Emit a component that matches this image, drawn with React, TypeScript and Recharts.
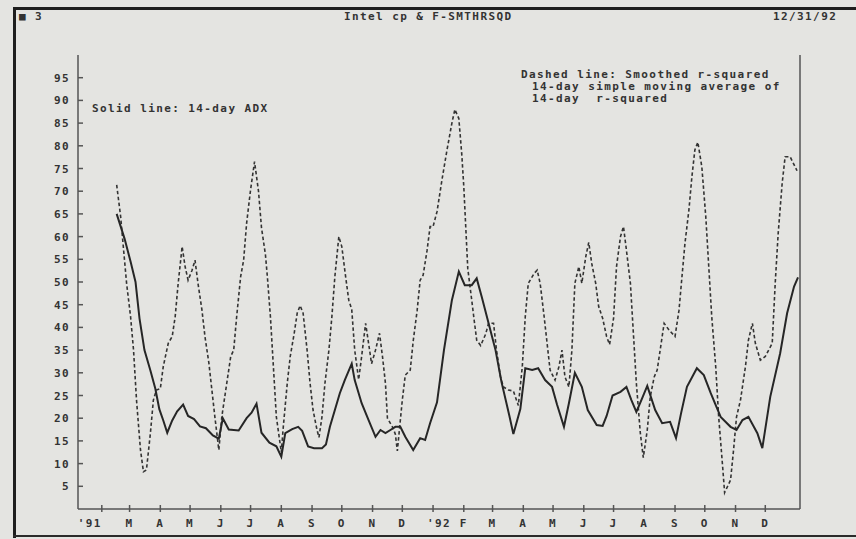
import { LineChart, Line, XAxis, YAxis } from "recharts";

// x values are days counted from 1 Jan 1991 (chart runs mid-Jan '91 to end '92)
const adxDays = [
  46, 54, 60, 65, 69, 74, 80, 85, 89, 93, 97, 102, 107, 113, 118, 124, 130, 136,
  143, 149, 153, 159, 169, 177, 182, 187, 192, 200, 207, 212, 216, 223, 229, 233,
  239, 245, 253, 257, 261, 266, 271, 276, 283, 286, 293, 300, 307, 312, 317, 322,
  327, 332, 337, 345, 352, 357, 362, 369, 376, 384, 391, 397, 404, 409, 414, 421,
  428, 434, 442, 446, 453, 458, 465, 471, 478, 485, 490, 497, 502, 508, 515, 521,
  530, 536, 540, 546, 554, 560, 565, 570, 576, 581, 589, 596, 604, 610, 615, 621,
  631, 638, 645, 655, 665, 671, 677, 683, 692, 697, 705, 715, 722, 729, 733,
];
const adxValues = [
  65.0, 59.5, 54.5, 50.0, 42.0, 35.0, 30.5, 26.5, 22.0, 19.5, 16.8, 19.5, 21.5,
  23.0, 20.5, 19.8, 18.2, 17.8, 16.2, 15.5, 20.0, 17.5, 17.3, 20.0, 21.2, 23.2,
  16.8, 14.6, 13.8, 11.5, 16.7, 17.6, 18.1, 17.2, 13.8, 13.4, 13.4, 14.2, 18.1,
  21.8, 25.5, 28.4, 32.0, 28.4, 23.3, 19.6, 15.9, 17.4, 16.7, 17.4, 18.1, 18.1,
  15.9, 13.0, 15.6, 15.2, 18.9, 23.5, 35.0, 46.0, 52.3, 49.3, 49.3, 50.8, 46.8,
  40.9, 35.0, 28.0, 20.5, 16.5, 22.0, 31.0, 30.6, 31.0, 28.4, 26.9, 23.0, 18.1,
  23.3, 30.0, 26.9, 21.8, 18.5, 18.3, 20.5, 25.0, 25.8, 26.9, 24.0, 21.4, 24.5,
  27.1, 21.8, 18.9, 19.2, 15.6, 21.0, 26.9, 31.0, 29.5, 25.5, 20.3, 18.1, 17.4,
  19.6, 20.3, 16.7, 13.4, 24.7, 34.3, 43.1, 49.0, 51.0,
];

const rsqDays = [
  46, 50, 53, 56, 60, 63, 66, 70, 73, 76, 80, 83, 86, 90, 93, 98, 102, 105, 108,
  112, 115, 118, 122, 125, 128, 132, 135, 139, 142, 145, 149, 152, 157, 161, 164,
  167, 171, 174, 177, 181, 185, 189, 192, 196, 198, 201, 204, 207, 212, 214, 218,
  221, 225, 228, 231, 234, 238, 241, 244, 248, 250, 253, 256, 260, 263, 266, 270,
  273, 276, 280, 283, 286, 290, 293, 297, 300, 303, 307, 311, 314, 317, 319, 324,
  327, 329, 334, 337, 342, 345, 349, 352, 355, 359, 362, 365, 369, 374, 379, 384,
  387, 391, 394, 396, 398, 400, 404, 406, 409, 413, 418, 421, 426, 429, 433, 436,
  441, 446, 451, 455, 458, 461, 467, 470, 473, 477, 480, 483, 488, 492, 495, 498,
  502, 505, 508, 512, 515, 519, 522, 525, 529, 532, 536, 540, 543, 547, 550, 554,
  557, 560, 564, 567, 570, 574, 577, 581, 584, 588, 591, 594, 598, 603, 609, 613,
  616, 619, 623, 626, 629, 632, 636, 640, 643, 646, 650, 653, 657, 659, 665, 668,
  671, 675, 680, 683, 687, 690, 695, 700, 707, 710, 713, 717, 720, 725, 732,
];
const rsqValues = [
  71.4, 64.4, 57.0, 49.7, 42.4, 35.0, 24.0, 13.0, 8.2, 8.6, 16.7, 24.0, 26.2,
  26.5, 31.4, 36.5, 38.0, 42.4, 49.7, 57.8, 53.4, 50.4, 52.6, 54.8, 49.7, 43.8,
  38.0, 32.1, 26.2, 20.3, 13.0, 20.3, 27.7, 33.6, 35.0, 42.4, 51.2, 54.8, 62.9,
  70.3, 76.5, 70.0, 62.0, 56.0, 51.0, 42.4, 31.4, 20.3, 12.5, 18.1, 27.7, 33.6,
  38.7, 43.1, 44.8, 43.1, 35.0, 27.7, 21.8, 17.4, 15.8, 20.3, 27.7, 35.0, 42.4,
  51.2, 60.0, 57.8, 52.6, 46.0, 44.0, 35.0, 28.5, 33.6, 40.9, 36.5, 32.0, 35.0,
  38.7, 33.6, 27.7, 20.0, 18.1, 16.5, 12.8, 24.0, 29.5, 30.6, 37.0, 43.8, 50.4,
  51.5, 57.0, 62.2, 62.2, 65.5, 72.5, 79.0, 85.0, 88.0, 86.0, 78.0, 71.0, 62.0,
  53.0, 46.0, 42.4, 37.2, 36.0, 38.5, 40.9, 40.9, 35.0, 29.1, 26.9, 26.2, 26.0,
  22.8, 31.4, 42.4, 49.7, 51.9, 52.6, 49.7, 42.4, 36.5, 30.6, 28.4, 31.4, 35.0,
  29.1, 26.9, 35.0, 49.7, 53.4, 49.7, 55.6, 58.7, 54.1, 49.7, 44.6, 42.0, 38.0,
  36.2, 42.0, 53.4, 60.0, 62.2, 57.0, 49.7, 38.7, 27.7, 16.7, 11.3, 17.4, 24.7,
  29.1, 30.6, 35.0, 40.9, 39.4, 38.0, 43.8, 51.2, 58.5, 65.9, 73.2, 79.1, 80.8,
  75.4, 64.4, 53.4, 42.4, 31.4, 20.3, 9.3, 3.6, 6.4, 13.0, 20.3, 24.0, 31.4,
  37.2, 40.9, 36.5, 32.8, 33.6, 36.5, 49.7, 60.7, 71.7, 77.6, 77.6, 74.5,
];

// first day of each month, Feb '91 .. Dec '92
const monthStartDays = [
  31, 59, 90, 120, 151, 181, 212, 243, 273, 304, 334, 365, 396, 425, 456, 486,
  517, 547, 578, 609, 639, 670, 700,
];
const monthLabels = [
  "'91", "M", "A", "M", "J", "J", "A", "S", "O", "N", "D",
  "'92", "F", "M", "A", "M", "J", "J", "A", "S", "O", "N", "D",
];
const yTicks = [5, 10, 15, 20, 25, 30, 35, 40, 45, 50, 55, 60, 65, 70, 75, 80, 85, 90, 95];

const adxData = adxDays.map((day, i) => ({ day, value: adxValues[i] }));
const rsqData = rsqDays.map((day, i) => ({ day, value: rsqValues[i] }));

const paper = "#e4e4e1";
const ink = "#333";
const frame = "#555";
const mono = "'DejaVu Sans Mono', 'Liberation Mono', monospace";
const textStyle = {
  fontFamily: mono,
  fontSize: 11,
  fontWeight: 700,
  letterSpacing: 1.4,
  fill: ink,
};

function BottomTick(props: any) {
  const { x, y, payload } = props;
  const i = monthStartDays.indexOf(payload.value);
  const label = monthLabels[i] ?? "";
  const dx = i === 0 ? -12 : label.startsWith("'") ? 6 : 0;
  return (
    <g>
      <line x1={x} x2={x} y1={y - 14} y2={y - 7} stroke={frame} strokeWidth={1.5} />
      <text x={x + dx} y={y + 8} textAnchor="middle" style={textStyle}>
        {label}
      </text>
    </g>
  );
}

function TopTick(props: any) {
  const { x, y } = props;
  return <line x1={x} x2={x} y1={y} y2={y + 4} stroke={frame} strokeWidth={1.5} />;
}

function LeftTick(props: any) {
  const { x, y, payload } = props;
  return (
    <g>
      <line x1={x + 8} x2={x + 13} y1={y} y2={y} stroke={frame} strokeWidth={1.5} />
      <text x={x} y={y + 4} textAnchor="end" style={textStyle}>
        {payload.value}
      </text>
    </g>
  );
}

function RightTick(props: any) {
  const { x, y, payload } = props;
  return (
    <g>
      <line x1={x - 48} x2={x - 43} y1={y} y2={y} stroke={frame} strokeWidth={1.5} />
      <text x={x} y={y + 4} textAnchor="start" style={{ ...textStyle, fill: "#555" }}>
        {payload.value}
      </text>
    </g>
  );
}

export default function App() {
  return (
    <div
      style={{
        position: "absolute",
        left: 0,
        top: 0,
        width: 856,
        height: 539,
        background: paper,
        overflow: "hidden",
      }}
    >
      <LineChart
        width={856}
        height={539}
        margin={{ top: 55, right: 0, bottom: 5, left: 38 }}
      >
        <XAxis
          xAxisId="bottom"
          dataKey="day"
          type="number"
          domain={[7, 735]}
          ticks={monthStartDays}
          interval={0}
          height={25}
          tickSize={0}
          tickMargin={10}
          tick={<BottomTick />}
          axisLine={{ stroke: frame, strokeWidth: 1.5 }}
          tickLine={false}
        />
        <XAxis
          xAxisId="top"
          orientation="top"
          dataKey="day"
          type="number"
          domain={[7, 735]}
          ticks={monthStartDays}
          interval={0}
          height={0}
          tickSize={0}
          tickMargin={0}
          tick={<TopTick />}
          axisLine={{ stroke: frame, strokeWidth: 1.5 }}
          tickLine={false}
        />
        <YAxis
          yAxisId="left"
          domain={[0, 100]}
          ticks={yTicks}
          interval={0}
          width={40}
          tickSize={0}
          tickMargin={8}
          tick={<LeftTick />}
          axisLine={{ stroke: frame, strokeWidth: 1.5 }}
          tickLine={false}
        />
        <YAxis
          yAxisId="right"
          orientation="right"
          domain={[0, 100]}
          ticks={yTicks}
          interval={0}
          width={56}
          tickSize={0}
          tickMargin={43}
          tick={<RightTick />}
          axisLine={{ stroke: frame, strokeWidth: 1.5 }}
          tickLine={false}
        />
        <Line
          data={rsqData}
          xAxisId="bottom"
          yAxisId="left"
          dataKey="value"
          type="linear"
          stroke={ink}
          strokeWidth={1.6}
          strokeDasharray="3.5 2.5"
          dot={false}
          isAnimationActive={false}
        />
        <Line
          data={adxData}
          xAxisId="bottom"
          yAxisId="left"
          dataKey="value"
          type="linear"
          stroke="#262626"
          strokeWidth={2}
          dot={false}
          isAnimationActive={false}
        />
      </LineChart>

      <svg
        width={856}
        height={539}
        style={{ position: "absolute", left: 0, top: 0, pointerEvents: "none" }}
      >
        {/* page border of the printout */}
        <rect x={13} y={7} width={843} height={3} fill="#1e1e1e" />
        <rect x={13} y={7} width={3} height={531} fill="#1e1e1e" />
        <rect x={13} y={535} width={843} height={2} fill="#2a2a2a" />

        <text x={19} y={20} style={textStyle}>■ 3</text>
        <text x={344} y={20} style={textStyle}>Intel cp &amp; F-SMTHRSQD</text>
        <text x={773} y={20} style={textStyle}>12/31/92</text>

        <text x={92} y={112} style={textStyle}>Solid line: 14-day ADX</text>
        <text x={521} y={78} style={textStyle}>Dashed line: Smoothed r-squared</text>
        <text x={532} y={90} style={textStyle}>14-day simple moving average of</text>
        <text x={532} y={102} style={{ ...textStyle, whiteSpace: "pre" }}>
          14-day  r-squared
        </text>
      </svg>
    </div>
  );
}
